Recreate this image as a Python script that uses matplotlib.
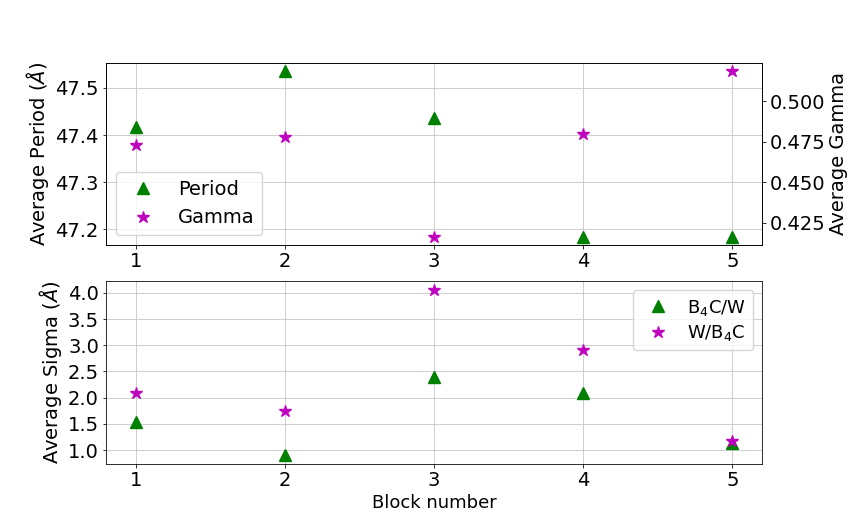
import matplotlib
matplotlib.use("Agg")
import matplotlib.pyplot as plt

blocks = [1, 2, 3, 4, 5]
period = [47.416, 47.536, 47.437, 47.185, 47.185]
gamma = [0.4732, 0.4779, 0.4163, 0.4795, 0.5188]
sigma_b4c_w = [1.53, 0.90, 2.40, 2.08, 1.13]
sigma_w_b4c = [2.08, 1.75, 4.06, 2.90, 1.18]
sigma_ticks = [1.0, 1.5, 2.0, 2.5, 3.0, 3.5, 4.0]
gamma_ticks = [0.425, 0.450, 0.475, 0.500]

fs = 14
s = 0.72
plt.rcParams.update({
    'axes.linewidth': 0.8 * s,
    'grid.linewidth': 0.8 * s,
    'grid.color': '#c4c4c4',
    'xtick.major.size': 3.5 * s, 'ytick.major.size': 3.5 * s,
    'xtick.major.width': 0.8 * s, 'ytick.major.width': 0.8 * s,
    'xtick.major.pad': 3.5 * s, 'ytick.major.pad': 3.5 * s,
    'axes.labelpad': 4 * s,
    'legend.borderaxespad': 0.5,
})
fig, (ax1, ax3) = plt.subplots(2, 1, figsize=(8.47, 5.21), dpi=100)

l1, = ax1.plot(blocks, period, '^', color='g', markersize=9, label='Period')
ax1.set_ylabel(r'Average Period ($\AA$)', fontsize=fs)
ax1.grid(True)
ax1.tick_params(labelsize=fs)
ax1.set_xticks(blocks)
ax2 = ax1.twinx()
l2, = ax2.plot(blocks, gamma, '*', color='m', markersize=9, label='Gamma')
ax2.set_ylabel('Average Gamma', fontsize=fs)
ax2.set_yticks(gamma_ticks)
ax2.set_yticklabels([f'{t:.3f}' for t in gamma_ticks])
ax2.tick_params(labelsize=fs)
ax1.legend([l1, l2], ['Period', 'Gamma'], loc='lower left', fontsize=fs)

ax3.plot(blocks, sigma_b4c_w, '^', color='g', markersize=9, label=r'B$_4$C/W')
ax3.plot(blocks, sigma_w_b4c, '*', color='m', markersize=9, label=r'W/B$_4$C')
ax3.set_ylabel(r'Average Sigma ($\AA$)', fontsize=fs)
ax3.set_xlabel('Block number', fontsize=fs - 1)
ax3.set_xticks(blocks)
ax3.set_yticks(sigma_ticks)
ax3.set_yticklabels([f'{t:.1f}' for t in sigma_ticks])
ax3.grid(True)
ax3.tick_params(labelsize=fs)
ax3.legend(loc='upper right', fontsize=fs - 1, labelspacing=0.3, handletextpad=0.6)

fig.savefig('out.png')
